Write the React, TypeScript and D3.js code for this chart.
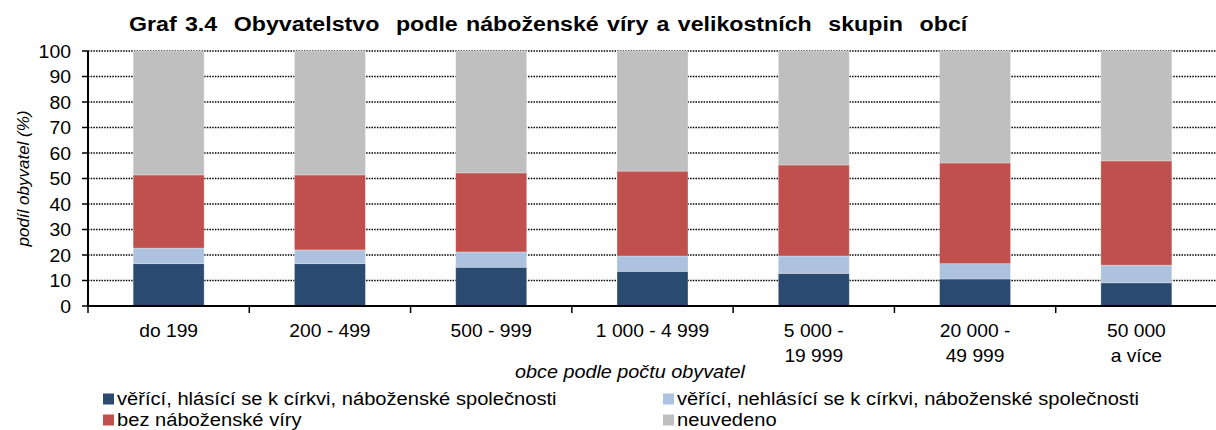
import React from "react";
import * as d3 from "d3";

const categories = [
  ["do 199"],
  ["200 - 499"],
  ["500 - 999"],
  ["1 000 - 4 999"],
  ["5 000 -", "19 999"],
  ["20 000 -", "49 999"],
  ["50 000", "a více"],
];

const seriesKeys = ["hlasici", "nehlasici", "bez", "neuvedeno"];
const seriesNames = [
  "věřící, hlásící se k církvi, náboženské společnosti",
  "věřící, nehlásící se k církvi, náboženské společnosti",
  "bez náboženské víry",
  "neuvedeno",
];
const seriesColors = ["#2B4A6F", "#ADC2DE", "#C0504D", "#BFBFBF"];

const hlasici = [16.6, 16.6, 15.2, 13.6, 12.8, 10.6, 9.1];
const nehlasici = [6.1, 5.4, 6.0, 6.0, 6.8, 6.0, 6.9];
const bez = [28.7, 29.4, 31.0, 33.3, 35.7, 39.5, 40.9];
const neuvedeno = [48.6, 48.6, 47.8, 47.1, 44.7, 43.9, 43.1];

const yTicks = [0, 10, 20, 30, 40, 50, 60, 70, 80, 90, 100];

const W = 1216;
const H = 430;
const font = "'Liberation Sans', Arial, sans-serif";

// the source picture is a bit stretched sideways, so text gets a small x-scale
const Txt = ({ x, y, sx = 1, children, ...rest }: any) => (
  <text transform={`translate(${x},${y}) scale(${sx},1)`} fontFamily={font} {...rest}>
    {children}
  </text>
);

export default function App() {
  const margin = { top: 51, right: 0, bottom: 124, left: 88 };
  const rows = categories.map((c, i) => ({
    key: String(i),
    hlasici: hlasici[i],
    nehlasici: nehlasici[i],
    bez: bez[i],
    neuvedeno: neuvedeno[i],
  }));
  const keys = rows.map((r) => r.key);

  const x = d3
    .scaleBand<string>()
    .domain(keys)
    .range([margin.left, W + 1])
    .paddingInner(0.56)
    .paddingOuter(0.28);
  const xCell = d3.scaleBand<string>().domain(keys).range([margin.left, W + 1]);
  const y = d3
    .scaleLinear()
    .domain([0, 100])
    .range([H - margin.bottom, margin.top]);

  const stacked = d3.stack<any>().keys(seriesKeys)(rows);

  const y0 = y(0);

  return (
    <svg width={W} height={H} style={{ position: "absolute", left: 0, top: 0, background: "#fff" }}>
      <Txt x={129} y={31} sx={1.16} fontWeight="bold" fontSize={20} wordSpacing={1.6} style={{ whiteSpace: "pre" }}>
        {"Graf 3.4  Obyvatelstvo  podle náboženské víry a velikostních  skupin  obcí"}
      </Txt>

      {/* gridlines */}
      {yTicks
        .filter((t) => t > 0)
        .map((t) => (
          <line
            key={t}
            x1={margin.left}
            x2={W}
            y1={y(t)}
            y2={y(t)}
            stroke="#000"
            strokeWidth={1.3}
            strokeDasharray="1.5 1.2"
          />
        ))}

      {/* bars */}
      {stacked.map((s, si) => (
        <g key={s.key} fill={seriesColors[si]}>
          {s.map((d, i) => (
            <rect
              key={i}
              x={x(keys[i])}
              width={x.bandwidth()}
              y={y(d[1])}
              height={y(d[0]) - y(d[1])}
              stroke="#ffffff"
              strokeOpacity={0.35}
              strokeWidth={0.8}
            />
          ))}
        </g>
      ))}

      {/* y axis */}
      <line x1={margin.left} x2={margin.left} y1={y(100)} y2={y0} stroke="#000" strokeWidth={2} />
      {yTicks.map((t) => (
        <g key={t}>
          <line x1={margin.left - 6} x2={margin.left} y1={y(t)} y2={y(t)} stroke="#000" strokeWidth={1.5} />
          <Txt x={71} y={y(t) + 6.5} sx={1.05} textAnchor="end" fontSize={18.5}>
            {t}
          </Txt>
        </g>
      ))}
      <text
        transform={`translate(29,${(y(100) + y0) / 2}) rotate(-90)`}
        textAnchor="middle"
        fontFamily={font}
        fontStyle="italic"
        fontSize={17}
      >
        podíl obyvatel (%)
      </text>

      {/* x axis */}
      <line x1={margin.left} x2={W} y1={y0} y2={y0} stroke="#000" strokeWidth={2} />
      {keys.map((k) => (
        <line
          key={k}
          x1={xCell(k)}
          x2={xCell(k)}
          y1={y0}
          y2={y0 + 7}
          stroke="#000"
          strokeWidth={1.5}
        />
      ))}
      {categories.map((lines, i) =>
        lines.map((l, j) => (
          <Txt
            key={i + "-" + j}
            x={(xCell(keys[i]) ?? 0) + xCell.bandwidth() / 2}
            y={337 + j * 24.5}
            sx={1.1}
            textAnchor="middle"
            fontSize={17.5}
          >
            {l}
          </Txt>
        ))
      )}
      <Txt x={630} y={378} sx={1.1} textAnchor="middle" fontStyle="italic" fontSize={18}>
        obce podle počtu obyvatel
      </Txt>

      {/* legend */}
      {seriesNames.map((n, i) => {
        const lx = i % 2 === 0 ? 103 : 663;
        const base = i < 2 ? 404.5 : 425.5;
        return (
          <g key={n}>
            <rect x={lx} y={base - 11} width={11} height={11} fill={seriesColors[i]} />
            <Txt x={lx + 14} y={base} sx={1.06} fontSize={19}>
              {n}
            </Txt>
          </g>
        );
      })}
    </svg>
  );
}
